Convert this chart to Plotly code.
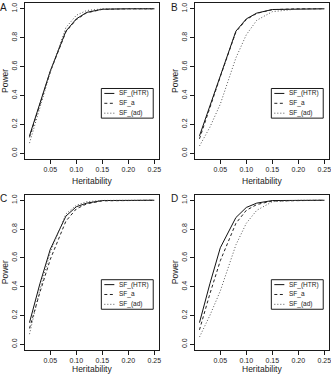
import plotly.graph_objects as go

heritability = [0.01, 0.03, 0.05, 0.08, 0.10, 0.12, 0.15, 0.20, 0.25]

series_names = ["SF_(HTR)", "SF_a", "SF_(ad)"]

A_htr = [0.12, 0.35, 0.57, 0.845, 0.93, 0.975, 0.997, 1.0, 1.0]
A_a = [0.11, 0.34, 0.565, 0.84, 0.925, 0.972, 0.996, 1.0, 1.0]
A_ad = [0.07, 0.31, 0.56, 0.87, 0.955, 0.988, 0.999, 1.0, 1.0]

B_htr = [0.12, 0.33, 0.54, 0.845, 0.93, 0.97, 0.995, 1.0, 1.0]
B_a = [0.10, 0.32, 0.53, 0.84, 0.925, 0.968, 0.994, 1.0, 1.0]
B_ad = [0.05, 0.18, 0.34, 0.66, 0.82, 0.92, 0.98, 0.999, 1.0]

C_htr = [0.15, 0.42, 0.66, 0.89, 0.955, 0.98, 0.998, 1.0, 1.0]
C_a = [0.11, 0.36, 0.59, 0.855, 0.94, 0.975, 0.996, 1.0, 1.0]
C_ad = [0.07, 0.38, 0.64, 0.905, 0.965, 0.99, 0.999, 1.0, 1.0]

D_htr = [0.15, 0.42, 0.67, 0.88, 0.95, 0.98, 0.998, 1.0, 1.0]
D_a = [0.10, 0.35, 0.58, 0.84, 0.93, 0.97, 0.995, 1.0, 1.0]
D_ad = [0.05, 0.20, 0.37, 0.69, 0.84, 0.93, 0.99, 1.0, 1.0]

panel_letters = ["A", "B", "C", "D"]
x_ticks = [0.05, 0.10, 0.15, 0.20, 0.25]
y_ticks = [0.0, 0.2, 0.4, 0.6, 0.8, 1.0]

panels = [
    (A_htr, A_a, A_ad),
    (B_htr, B_a, B_ad),
    (C_htr, C_a, C_ad),
    (D_htr, D_a, D_ad),
]

W, H = 331, 374
FONT = "Liberation Sans, Arial, Helvetica, sans-serif"
INK = "#1a1a1a"

# pixel boxes (left, right, top, bottom, x-title offset)
boxes = [
    (24.5, 159.3, 3, 159, -22),
    (194.5, 329.3, 3, 159, -22),
    (24.5, 159.3, 194.5, 350, -19),
    (194.5, 329.3, 194.5, 350, -19),
]

styles = [
    dict(color="#111111", width=1.0, dash="solid"),
    dict(color="#222222", width=1.0, dash="3px,2.5px"),
    dict(color="#555555", width=1.0, dash="1px,2px"),
]

fig = go.Figure()
for i, (vals, box) in enumerate(zip(panels, boxes)):
    n = "" if i == 0 else str(i + 1)
    xa, ya = "x" + n, "y" + n
    for name, v, st in zip(series_names, vals, styles):
        fig.add_trace(go.Scatter(x=heritability, y=v, mode="lines", name=name,
                                 line=st, xaxis=xa, yaxis=ya, showlegend=False))
    l, r, t, b, xt = box
    axis_common = dict(showline=True, mirror=True, linecolor=INK, linewidth=1,
                       ticks="outside", ticklen=4, tickwidth=1, tickcolor=INK,
                       showgrid=False, zeroline=False, ticklabeloverflow="allow",
                       tickfont=dict(family=FONT, size=7, color=INK))
    fig.update_layout(**{
        "xaxis" + n: dict(domain=[l / W, r / W], anchor=ya, range=[0.0004, 0.2596],
                          tickvals=x_ticks, tickformat=".2f", **axis_common),
        "yaxis" + n: dict(domain=[1 - b / H, 1 - t / H], anchor=xa, range=[-0.04, 1.04],
                          tickvals=y_ticks, tickformat=".1f", tickangle=-90, **axis_common),
    })
    xd, yd = xa + " domain", ya + " domain"
    # axis titles
    fig.add_annotation(text="Heritability", xref=xd, yref=yd, x=0.5, y=0, yshift=xt,
                       showarrow=False, font=dict(family=FONT, size=8.5, color=INK),
                       xanchor="center", yanchor="middle")
    fig.add_annotation(text="Power", xref=xd, yref=yd, x=0, y=0.5, xshift=-19.5,
                       textangle=-90, showarrow=False,
                       font=dict(family=FONT, size=8.5, color=INK),
                       xanchor="center", yanchor="middle")
    fig.add_annotation(text=panel_letters[i], xref=xd, yref=yd, x=0, y=1,
                       xshift=-20.5, yshift=-4, showarrow=False,
                       font=dict(family=FONT, size=10, color=INK),
                       xanchor="center", yanchor="middle")
    # legend box
    lx0, lx1, ly0, ly1 = 0.57, 0.955, 0.262, 0.452
    fig.add_shape(type="rect", xref=xd, yref=yd, x0=lx0, x1=lx1, y0=ly0, y1=ly1,
                  line=dict(color=INK, width=1), fillcolor="white")
    pw = r - l
    for k, (name, st) in enumerate(zip(series_names, styles)):
        yy = ly1 - (ly1 - ly0) * (k + 0.5) / 3
        fig.add_shape(type="line", xref=xd, yref=yd,
                      x0=lx0 + 3 / pw, x1=lx0 + 13 / pw, y0=yy, y1=yy,
                      line=dict(color=st["color"], width=1, dash=st["dash"]))
        fig.add_annotation(text=name, xref=xd, yref=yd, x=lx0 + 16 / pw, y=yy,
                           showarrow=False, xanchor="left", yanchor="middle",
                           font=dict(family=FONT, size=6.5, color=INK))

fig.update_layout(template="none", width=W, height=H,
                  margin=dict(l=0, r=0, t=0, b=0),
                  font=dict(family=FONT, color=INK),
                  paper_bgcolor="white", plot_bgcolor="white", showlegend=False)
fig.write_html("out.html")
